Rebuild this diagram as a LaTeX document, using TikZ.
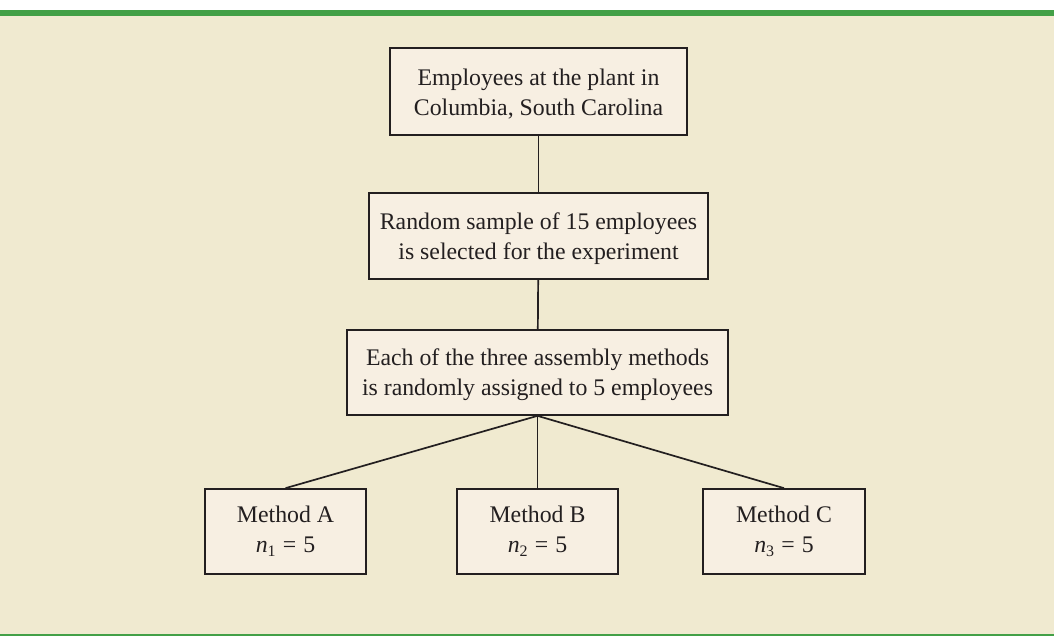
\documentclass[tikz,border=0pt]{standalone}
\usepackage{fontspec}
\setmainfont{Liberation Serif}
\usepackage{tikz}
\definecolor{cremaFondo}{HTML}{F0EAD0}
\definecolor{cremaCaja}{HTML}{F7EFE2}
\definecolor{verdeBarra}{HTML}{43A047}
\definecolor{grisTinta}{HTML}{231F20}
\newcommand{\nsub}[1]{{\itshape n}\raisebox{-0.35ex}{\fontsize{16}{16}\selectfont #1}\hspace{0.3em}=\hspace{0.3em}5}

\begin{document}
\begin{tikzpicture}[x=1pt,y=-1pt,
    caja/.style={draw=grisTinta,fill=cremaCaja,line width=1.7pt,align=center,inner sep=0pt,
      text=grisTinta,font=\fontsize{23.8}{30}\selectfont},
    cajaAlta/.style={caja,execute at begin node={\rule{0pt}{51.5pt}}},
    enlace/.style={draw=grisTinta,line width=1.7pt}]
    % fondo y barras
    \fill[white] (0,0) rectangle (1054,636);
    \fill[cremaFondo] (0,16) rectangle (1054,634);
    \fill[verdeBarra] (0,10) rectangle (1054,16);
    \fill[verdeBarra] (0,634) rectangle (1054,636);
    \node[cajaAlta,minimum width=297,minimum height=87] (planta) at (538.5,91.5)
      {Employees at the plant in\\Columbia, South Carolina};
    \node[cajaAlta,minimum width=339,minimum height=86] (muestra) at (538.5,236)
      {Random sample of 15 employees\\is selected for the experiment};
    \node[cajaAlta,minimum width=381,minimum height=85] (asignacion) at (537.5,372.5)
      {Each of the three assembly methods\\is randomly assigned to 5 employees};
    \node[caja,minimum width=161,minimum height=85] (metodoA) at (285.5,531.5)
      {Method A\\\nsub{1}};
    \node[caja,minimum width=161,minimum height=85] (metodoB) at (537.5,531.5)
      {Method B\\\nsub{2}};
    \node[caja,minimum width=162,minimum height=85] (metodoC) at (784,531.5)
      {Method C\\\nsub{3}};
    \draw[enlace] (planta) -- (muestra);
    \draw[enlace] (muestra) -- (asignacion);
    \draw[enlace] (asignacion.south) -- (metodoA.north);
    \draw[enlace] (asignacion.south) -- (metodoB.north);
    \draw[enlace] (asignacion.south) -- (metodoC.north);
  \end{tikzpicture}
\end{document}
